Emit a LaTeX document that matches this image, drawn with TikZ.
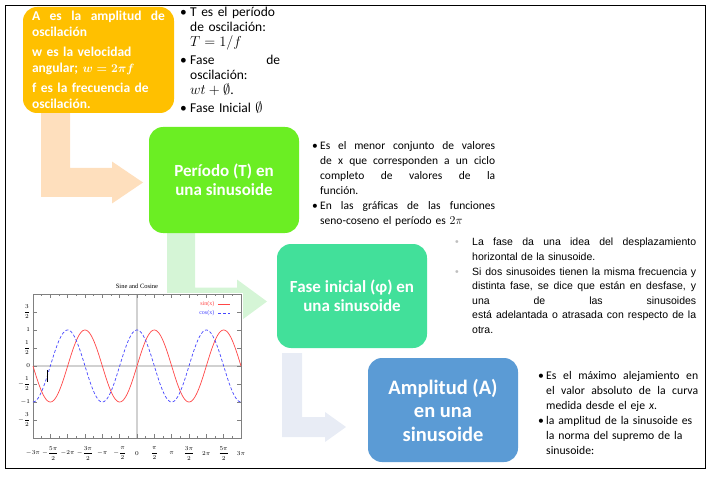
\documentclass[tikz,border=0pt]{standalone}
\usepackage{amsmath}
\usepackage{fontspec}
\setmainfont{Carlito}
\newfontfamily\arialfont{Liberation Sans}
\newfontfamily\plotfont{Liberation Serif}
\usetikzlibrary{calc, positioning}
\definecolor{GoldBox}{RGB}{255,192,0}
\definecolor{LimeBox}{RGB}{107,238,35}
\definecolor{TealBox}{RGB}{66,224,154}
\definecolor{SkyBox}{RGB}{91,155,213}
\definecolor{PeachArrow}{RGB}{254,223,189}
\definecolor{MintArrow}{RGB}{213,245,214}
\definecolor{MistArrow}{RGB}{232,236,245}
\definecolor{SinRed}{RGB}{255,70,70}
\definecolor{CosBlue}{RGB}{70,70,255}

\newlength{\bind}
\newlength{\bwid}
\newcommand{\bitem}[2][\textbullet]{\noindent\hangindent=\bind\hangafter=1\makebox[\bind][l]{#1}#2\par}
\newcommand{\jw}[2]{\makebox[#1][s]{\spaceskip=\fontdimen2\font plus 1fil minus .3\fontdimen2\font\relax #2}}
\newcommand{\jl}[1]{\jw{\bwid}{#1}}
\newcommand{\bendarrow}[6]{%
  \fill[#6] let \p1=(#1), \p2=(#2) in
    (\x1-#3,\y1) -- (\x1+#3,\y1) -- (\x1+#3,\y2+#3) -- (\x2-#5,\y2+#3)
    -- (\x2-#5,\y2+#4) -- (\p2) -- (\x2-#5,\y2-#4) -- (\x2-#5,\y2-#3)
    -- (\x1-#3,\y2-#3) -- cycle;}

\begin{document}
\begin{tikzpicture}[x=1pt, y=-1pt,
  box/.style={rectangle, rounded corners=14pt, text=white,
    inner sep=0pt, minimum width=150pt, minimum height=105pt, align=center},
  note/.style={anchor=north west, inner sep=0pt, text width=#1},
  tick/.style={gray, line width=0.4pt},
  lbl/.style={font=\fontsize{6.5}{7}\selectfont, inner sep=0.5pt}
]
\useasboundingbox (0,0) rectangle (711,478);
\draw[line width=0.8pt] (5,5) rectangle (705,468);

\coordinate (s1) at (55.5,113);
\coordinate (t1) at (143,182.5);
\coordinate (s2) at (181,232);
\coordinate (t2) at (267,301.5);
\coordinate (s3) at (292,353);
\coordinate (t3) at (346,427);
\bendarrow{s1}{t1}{14.5pt}{21pt}{31pt}{PeachArrow}
\bendarrow{s2}{t2}{14pt}{22pt}{30pt}{MintArrow}
\bendarrow{s3}{t3}{10pt}{15pt}{21pt}{MistArrow}

% sine and cosine plot
\fill[white] (6,293) rectangle (243,467);
\begin{scope}[shift={(137,366)}, x=11.035pt, y=36pt]
  \draw[black!18, line width=1.2pt] ({-3*pi},0) -- ({3*pi},0);
  \draw[black!18, line width=1.2pt] (0,-2) -- (0,2);
  \foreach \k in {-12,...,12} {
    \draw[tick] ({\k*pi/4},-2) -- ++(0,0.06);
    \draw[tick] ({\k*pi/4},2) -- ++(0,-0.06);
  }
  \foreach \k in {-6,...,6} {
    \draw[tick] ({\k*pi/2},-2) -- ++(0,0.12);
    \draw[tick] ({\k*pi/2},2) -- ++(0,-0.12);
  }
  \foreach \v in {-1.5,-1,...,1.5} {
    \draw[tick] ({-3*pi},\v) -- ++(0.35,0);
    \draw[tick] ({3*pi},\v) -- ++(-0.35,0);
  }
  \draw[gray, line width=0.5pt] ({-3*pi},-2) rectangle ({3*pi},2);
  \draw[SinRed, line width=0.7pt, domain={-3*pi}:{3*pi}, samples=160, smooth]
    plot (\x, {sin(\x r)});
  \draw[CosBlue, line width=0.7pt, dash pattern=on 3pt off 2pt,
    domain={-3*pi}:{3*pi}, samples=160, smooth] plot (\x, {cos(\x r)});
  \foreach \v/\lab [count=\i] in {1.5/\dfrac{3}{2}, 1/1, 0.5/\dfrac{1}{2}, 0/0,
      -0.5/-\dfrac{1}{2}, -1/-1, -1.5/-\dfrac{3}{2}}
    \node[lbl, anchor=east] (yl\i) at ({-3*pi-0.2},\v) {$\lab$};
  \foreach \k/\lab [count=\i] in {-6/-3\pi, -5/-\dfrac{5\pi}{2}, -4/-2\pi, -3/-\dfrac{3\pi}{2},
      -2/-\pi, -1/-\dfrac{\pi}{2}, 0/0, 1/\dfrac{\pi}{2}, 2/\pi, 3/\dfrac{3\pi}{2},
      4/2\pi, 5/\dfrac{5\pi}{2}, 6/3\pi}
    \node[lbl] (xl\i) at ({\k*pi/2},-2.42) {$\lab$};
  \node[lbl, font=\plotfont\fontsize{6.5}{7}\selectfont] (title) at (0,2.22) {Sine and Cosine};
  \node[lbl, anchor=east, text=SinRed, font=\plotfont\fontsize{6}{7}\selectfont] (sinlab) at (7.07,1.72) {sin(x)};
  \node[lbl, anchor=east, text=CosBlue, font=\plotfont\fontsize{6}{7}\selectfont] (coslab) at (7.07,1.47) {cos(x)};
  \draw[SinRed, line width=0.7pt] (7.34,1.72) -- (8.43,1.72);
  \draw[CosBlue, line width=0.7pt, dash pattern=on 3pt off 2pt] (7.34,1.47) -- (8.43,1.47);
  \draw[black, line width=1pt] (-8.11,-0.11) -- (-8.11,-0.44);
\end{scope}

\node[box, fill=GoldBox, minimum width=151pt, minimum height=106pt, text width=133pt,
  align=left, font=\bfseries\fontsize{13.5}{15.5}\selectfont] (amp) at (98.5,60)
  {\jw{133pt}{A es la amplitud de}\\ oscilación\\[5pt]
   w es la velocidad\\ angular; {\fontsize{12}{15}\selectfont\boldmath$w=2\pi f$}\\[5pt]
   f es la frecuencia de\\ oscilación.};
\node[box, fill=LimeBox, minimum height=106pt,
  font=\bfseries\fontsize{17}{19}\selectfont] (per) at (224,180)
  {Período (T) en\\una sinusoide};
\node[box, fill=TealBox, minimum height=104pt,
  font=\bfseries\fontsize{17}{19}\selectfont] (fase) at (352,296)
  {Fase inicial (φ) en\\una sinusoide};
\node[box, fill=SkyBox, minimum height=104pt,
  font=\bfseries\fontsize{20.5}{23.5}\selectfont] (ampl) at (443,410)
  {Amplitud (A)\\en una\\sinusoide};

\node[note=100pt, font=\fontsize{13.5}{15}\selectfont] (lstT) at (180,7)
  {\setlength{\bind}{10pt}\setlength{\bwid}{90pt}\setlength{\parskip}{3pt}%
   \bitem{T es el período\newline de oscilación:\newline $T=1/f$}
   \bitem{\jl{Fase de}\newline oscilación:\newline $wt+\emptyset$.}
   \bitem{Fase Inicial $\emptyset$}};
\node[note=183pt, font=\fontsize{11.5}{15}\selectfont] (lstP) at (312,141)
  {\setlength{\bind}{8pt}\setlength{\bwid}{175pt}\setlength{\parskip}{0pt}%
   \bitem{\jl{Es el menor conjunto de valores}\newline
     \jl{de x que corresponden a un ciclo}\newline
     \jl{completo de valores de la}\newline función.}
   \bitem{\jl{En las gráficas de las funciones}\newline
     seno-coseno el período es $2\pi$}};
\node[note=241pt, font=\arialfont\fontsize{10.5}{14.6}\selectfont] (lstF) at (455,238)
  {\setlength{\bind}{17pt}\setlength{\bwid}{224pt}\setlength{\parskip}{0pt}%
   \bitem[\textcolor{black!25}{\textbullet}]{\jl{La fase da una idea del desplazamiento}\newline
     horizontal de la sinusoide.}
   \bitem[\textcolor{black!25}{\textbullet}]{\jl{Si dos sinusoides tienen la misma frecuencia y}\newline
     \jl{distinta fase, se dice que están en desfase, y}\newline
     \jl{una de las sinusoides}\newline
     \jl{está adelantada o atrasada con respecto de la}\newline otra.}};
\node[note=160pt, font=\fontsize{11.7}{15}\selectfont] (lstA) at (538,371)
  {\setlength{\bind}{8pt}\setlength{\bwid}{152pt}\setlength{\parskip}{0pt}%
   \bitem{\jl{Es el máximo alejamiento en}\newline
     \jl{el valor absoluto de la curva}\newline
     medida desde el eje \textit{x}.}
   \bitem{la amplitud de la sinusoide es\newline
     la norma del supremo de la\newline sinusoide:}};
\end{tikzpicture}
\end{document}
